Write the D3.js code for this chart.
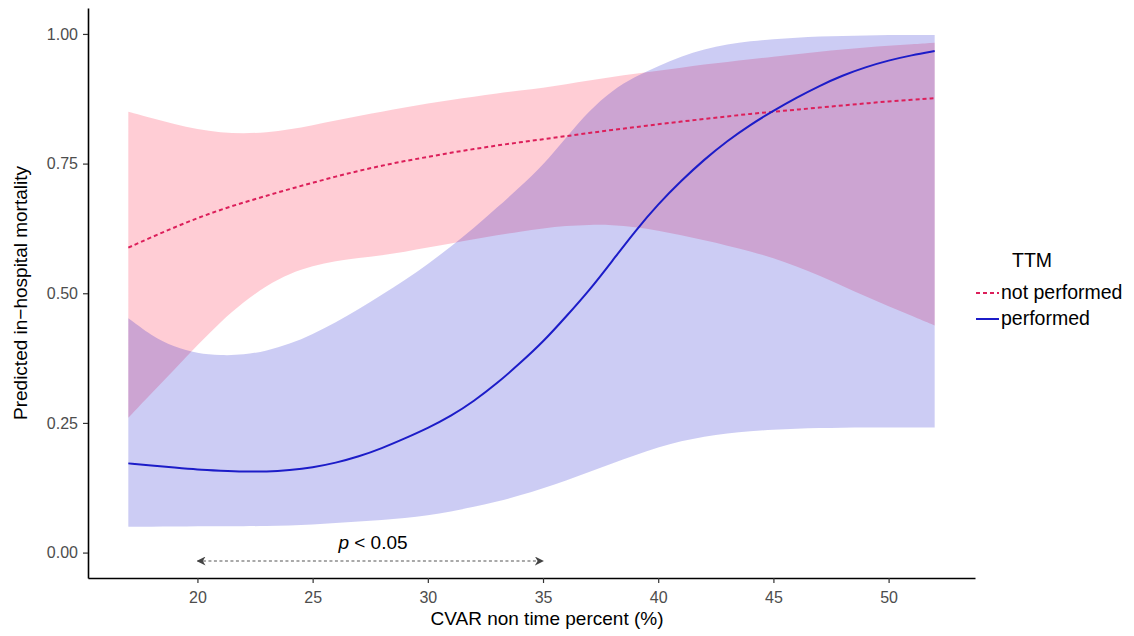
<!DOCTYPE html>
<html>
<head>
<meta charset="utf-8">
<script src="https://cdn.jsdelivr.net/npm/d3@7"></script>
<style>
  body { margin: 0; background: #fff; }
  svg { font-family: "Liberation Sans", Arial, Helvetica, sans-serif; }
</style>
</head>
<body>
<svg id="canvas" width="1134" height="636"></svg>
<script>
// CVAR non time percent (%)
const cvar = [17, 18, 19, 20, 21, 22, 23, 24, 25, 26, 27, 28, 29, 30, 31, 32, 33, 34,
              35, 36, 37, 38, 39, 40, 41, 42, 43, 44, 45, 46, 47, 48, 49, 50, 51, 52];

// TTM not performed: fit and 95% band
const notFit = [0.588, 0.608, 0.627, 0.645, 0.661, 0.675, 0.688, 0.701, 0.713, 0.725, 0.736, 0.746,
                0.755, 0.763, 0.771, 0.778, 0.785, 0.791, 0.797, 0.803, 0.809, 0.815, 0.820, 0.826,
                0.831, 0.836, 0.841, 0.846, 0.850, 0.854, 0.858, 0.862, 0.866, 0.870, 0.873, 0.876];
const notUpper = [0.850, 0.838, 0.826, 0.816, 0.810, 0.808, 0.810, 0.816, 0.824, 0.833, 0.842, 0.850,
                  0.858, 0.866, 0.873, 0.879, 0.885, 0.891, 0.896, 0.903, 0.910, 0.917, 0.923, 0.929,
                  0.935, 0.941, 0.946, 0.951, 0.956, 0.961, 0.966, 0.970, 0.974, 0.977, 0.980, 0.983];
const notLower = [0.260, 0.307, 0.353, 0.400, 0.445, 0.483, 0.515, 0.538, 0.553, 0.562, 0.568, 0.573,
                  0.580, 0.588, 0.596, 0.604, 0.612, 0.619, 0.625, 0.630, 0.632, 0.632, 0.628, 0.621,
                  0.612, 0.602, 0.592, 0.581, 0.568, 0.552, 0.534, 0.514, 0.494, 0.475, 0.457, 0.438];

// TTM performed: fit and 95% band
const perfFit = [0.172, 0.168, 0.164, 0.160, 0.158, 0.156, 0.156, 0.159, 0.164, 0.173, 0.185, 0.201,
                 0.220, 0.240, 0.263, 0.292, 0.326, 0.365, 0.406, 0.455, 0.505, 0.562, 0.620, 0.672,
                 0.717, 0.758, 0.794, 0.825, 0.852, 0.877, 0.900, 0.920, 0.936, 0.949, 0.959, 0.967];
const perfUpper = [0.452, 0.418, 0.396, 0.384, 0.380, 0.381, 0.389, 0.402, 0.421, 0.444, 0.469, 0.497,
                   0.525, 0.556, 0.590, 0.626, 0.665, 0.705, 0.747, 0.800, 0.852, 0.891, 0.918, 0.938,
                   0.957, 0.971, 0.980, 0.986, 0.990, 0.993, 0.995, 0.996, 0.997, 0.998, 0.998, 0.998];
const perfLower = [0.050, 0.050, 0.050, 0.051, 0.051, 0.051, 0.051, 0.052, 0.054, 0.057, 0.060, 0.063,
                   0.066, 0.072, 0.079, 0.088, 0.098, 0.110, 0.124, 0.139, 0.155, 0.172, 0.188, 0.203,
                   0.215, 0.224, 0.230, 0.234, 0.237, 0.239, 0.240, 0.241, 0.241, 0.241, 0.241, 0.241];

const xTicks = [20, 25, 30, 35, 40, 45, 50];
const yTicks = [0, 0.25, 0.5, 0.75, 1];
const groups = ["not performed", "performed"];
const pRange = [20, 35];

const svg = d3.select("#canvas");

const x = d3.scaleLinear().domain([15.25, 53.75]).range([88, 975]);
const y = d3.scaleLinear().domain([-0.049, 1.05]).range([578, 8]);

const series = [
    { name: groups[0], fit: notFit, lo: notLower, hi: notUpper, fill: "rgb(255,192,203)", fillOpacity: 0.8, stroke: "#dc1f5a", dash: "4,3" },
    { name: groups[1], fit: perfFit, lo: perfLower, hi: perfUpper, fill: "rgb(0,0,200)", fillOpacity: 0.2, stroke: "#1c1cc8", dash: null }
];

const area = d3.area()
    .x((d) => x(d.x))
    .y0((d) => y(d.lo))
    .y1((d) => y(d.hi))
    .curve(d3.curveBasis);

const line = d3.line()
    .x((d) => x(d.x))
    .y((d) => y(d.v))
    .curve(d3.curveBasis);

// ribbons
series.forEach((s) => {
    svg.append("path")
        .datum(cvar.map((c, i) => ({ x: c, lo: s.lo[i], hi: s.hi[i] })))
        .attr("d", area)
        .attr("fill", s.fill)
        .attr("fill-opacity", s.fillOpacity);
});

// fitted lines
series.forEach((s) => {
    svg.append("path")
        .datum(cvar.map((c, i) => ({ x: c, v: s.fit[i] })))
        .attr("d", line)
        .attr("fill", "none")
        .attr("stroke", s.stroke)
        .attr("stroke-width", 2)
        .attr("stroke-dasharray", s.dash);
});

// axes
const xAxis = svg.append("g")
    .attr("transform", `translate(0,${y.range()[0]})`)
    .call(d3.axisBottom(x).tickValues(xTicks).tickSize(5).tickPadding(5).tickSizeOuter(0));
const yAxis = svg.append("g")
    .attr("transform", `translate(${x.range()[0]},0)`)
    .call(d3.axisLeft(y).tickValues(yTicks).tickSize(5).tickPadding(5).tickSizeOuter(0).tickFormat(d3.format(".2f")));

[xAxis, yAxis].forEach((g) => {
    g.select(".domain").attr("stroke", "#000").attr("stroke-width", 1.6);
    g.selectAll(".tick line").attr("stroke", "#333").attr("stroke-width", 1.2);
    g.selectAll(".tick text").attr("fill", "#4d4d4d").style("font-size", "16px");
});
xAxis.selectAll(".tick text").attr("dy", "0.95em");

// axis titles
svg.append("text")
    .attr("x", 547)
    .attr("y", 625)
    .attr("text-anchor", "middle")
    .style("font-size", "19px")
    .text("CVAR non time percent (%)");

svg.append("text")
    .attr("transform", "translate(27,293) rotate(-90)")
    .attr("text-anchor", "middle")
    .style("font-size", "19px")
    .text("Predicted in\u2212hospital mortality");

// p < 0.05 annotation
const defs = svg.append("defs");
defs.append("marker")
    .attr("id", "arrow")
    .attr("viewBox", "0 0 10 10")
    .attr("refX", 9)
    .attr("refY", 5)
    .attr("markerWidth", 9)
    .attr("markerHeight", 9)
    .attr("markerUnits", "userSpaceOnUse")
    .attr("orient", "auto-start-reverse")
    .append("path")
    .attr("d", "M0,0 L10,5 L0,10 L3,5 Z")
    .attr("fill", "#444");

svg.append("line")
    .attr("x1", x(pRange[0]))
    .attr("x2", x(pRange[1]))
    .attr("y1", 561)
    .attr("y2", 561)
    .attr("stroke", "#555")
    .attr("stroke-width", 1.2)
    .attr("stroke-dasharray", "3,2.5")
    .attr("marker-start", "url(#arrow)")
    .attr("marker-end", "url(#arrow)");

const pText = svg.append("text")
    .attr("x", 373)
    .attr("y", 549)
    .attr("text-anchor", "middle")
    .style("font-size", "19px");
pText.append("tspan").style("font-style", "italic").text("p");
pText.append("tspan").text(" < 0.05");

// legend
const legend = svg.append("g").attr("transform", "translate(976,0)");
legend.append("text")
    .attr("x", 36)
    .attr("y", 267)
    .style("font-size", "19.5px")
    .text("TTM");

series.forEach((s, i) => {
    const ly = 293 + i * 26;
    legend.append("line")
        .attr("x1", 0)
        .attr("x2", 23)
        .attr("y1", ly)
        .attr("y2", ly)
        .attr("stroke", s.stroke)
        .attr("stroke-width", 2)
        .attr("stroke-dasharray", s.dash);
    legend.append("text")
        .attr("x", 25)
        .attr("y", ly + 6)
        .style("font-size", "19.5px")
        .text(s.name);
});
</script>
</body>
</html>
